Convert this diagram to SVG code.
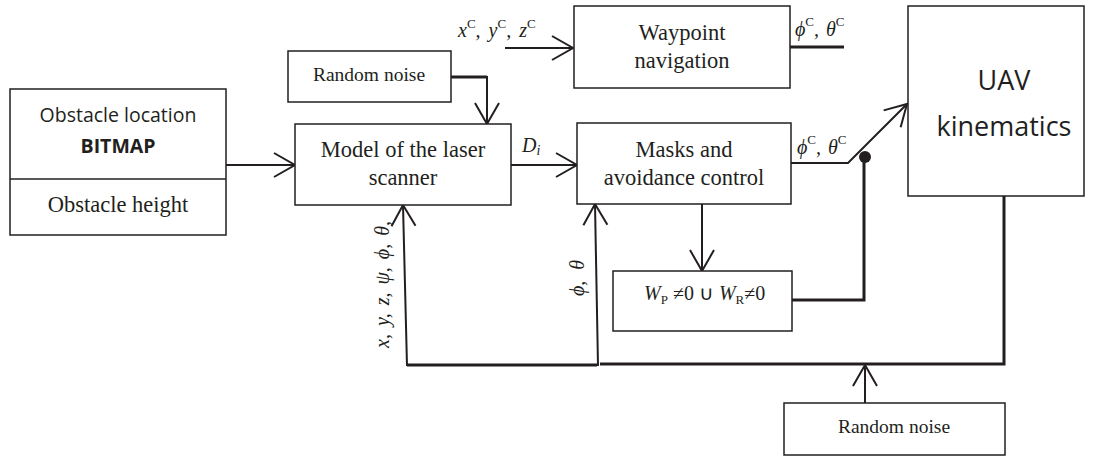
<svg xmlns="http://www.w3.org/2000/svg" width="1093" height="456" viewBox="0 0 1093 456">
  <style>
    .box { fill: #fff; stroke: #231f20; stroke-width: 1.5; }
    .ln { fill: none; stroke: #231f20; stroke-width: 2; }
    .thick { stroke-width: 3; }
    .serif { font-family: "Liberation Serif", "Times New Roman", serif; fill: #231f20; font-size: 22.5px; text-anchor: middle; }
    .small { font-size: 19.5px; }
    .sans { font-family: "Open Sans", Lato, "Liberation Sans", sans-serif; fill: #231f20; text-anchor: middle; }
    .math { font-family: "Liberation Serif", "Times New Roman", serif; fill: #231f20; font-size: 20px; font-style: italic; }
    .up { font-style: normal; font-size: 13px; }
  </style>
  <defs>
    <marker id="arrow" markerUnits="userSpaceOnUse" viewBox="-25 -15 30 30" markerWidth="30" markerHeight="30" refX="0" refY="0" orient="auto" overflow="visible">
      <path d="M-21,-12 L0,0 L-21,12" fill="none" stroke="#231f20" stroke-width="2"/>
    </marker>
  </defs>

  <!-- connectors -->
  <g id="connectors">
    <path class="ln" d="M226,165 H295" marker-end="url(#arrow)"/>
    <path class="ln thick" d="M451,77 H487"/>
    <path class="ln" d="M487,76 V124" marker-end="url(#arrow)"/>
    <path class="ln" d="M505,48 H573" marker-end="url(#arrow)"/>
    <path class="ln thick" d="M790,47 H844"/>
    <path class="ln" d="M511,165 H577" marker-end="url(#arrow)"/>
    <path class="ln" d="M791,163 H848 L907,104" marker-end="url(#arrow)"/>
    <circle cx="865" cy="157" r="6" fill="#231f20"/>
    <path class="ln thick" d="M792,300 H864 V158"/>
    <path class="ln" d="M702,204 V271" marker-end="url(#arrow)"/>
    <path class="ln thick" d="M1004,196 V364 H600"/>
    <path class="ln thick" d="M597,365 H407"/>
    <path class="ln" d="M407,366 L403,205" marker-end="url(#arrow)"/>
    <path class="ln" d="M598,366 L595,204" marker-end="url(#arrow)"/>
    <path class="ln" d="M865,403 V365" marker-end="url(#arrow)"/>

    <!-- signal labels -->
    <text class="math" x="458" y="37" word-spacing="3">x<tspan class="up" dy="-9">C</tspan><tspan dy="9">, y</tspan><tspan class="up" dy="-9">C</tspan><tspan dy="9">, z</tspan><tspan class="up" dy="-9">C</tspan></text>
    <text class="math" x="795" y="36" word-spacing="2">ϕ<tspan class="up" dy="-10">C</tspan><tspan dy="10">, θ</tspan><tspan class="up" dy="-10">C</tspan></text>
    <text class="math" x="797" y="154" word-spacing="2">ϕ<tspan class="up" dy="-10">C</tspan><tspan dy="10">, θ</tspan><tspan class="up" dy="-10">C</tspan></text>
    <text class="math" x="522" y="152">D<tspan font-size="14" dy="3">i</tspan></text>
    <text class="math" font-size="21" word-spacing="3" transform="translate(389,348) rotate(-90)">x, y, z, ψ, ϕ, θ,</text>
    <text class="math" font-size="21" transform="translate(584,296) rotate(-90)">ϕ, <tspan dx="6">θ</tspan></text>
  </g>

  <g id="obstacle">
    <rect class="box" x="10" y="89" width="216" height="146"/>
    <line class="box" x1="10" y1="179" x2="226" y2="179"/>
    <text class="sans" x="118" y="122" font-size="19.5">Obstacle location</text>
    <text class="sans" x="118" y="153" font-size="19.5" font-weight="bold">BITMAP</text>
    <text class="serif" x="118" y="212">Obstacle height</text>
  </g>

  <g id="noise-top">
    <rect class="box" x="288" y="51" width="163" height="51"/>
    <text class="serif small" x="369" y="81">Random noise</text>
  </g>

  <g id="laser-model">
    <rect class="box" x="295" y="124" width="216" height="81"/>
    <text class="serif" x="403" y="157">Model of the laser</text>
    <text class="serif" x="403" y="185">scanner</text>
  </g>

  <g id="waypoint">
    <rect class="box" x="574" y="6" width="216" height="82"/>
    <text class="serif" x="682" y="40">Waypoint</text>
    <text class="serif" x="682" y="68">navigation</text>
  </g>

  <g id="masks">
    <rect class="box" x="577" y="123" width="214" height="81"/>
    <text class="serif" x="684" y="157">Masks and</text>
    <text class="serif" x="684" y="185">avoidance control</text>
  </g>

  <g id="switch-condition">
    <rect class="box" x="613" y="271" width="179" height="60"/>
    <text class="math" x="644" y="300">W<tspan class="up" dy="4">P</tspan><tspan font-style="normal" dy="-4"> ≠0 ∪ </tspan>W<tspan class="up" dy="4">R</tspan><tspan font-style="normal" dy="-4">≠0</tspan></text>
  </g>

  <g id="uav">
    <rect class="box" x="908" y="6" width="176" height="190"/>
    <text class="sans" x="1004" y="90" font-size="27">UAV</text>
    <text class="sans" x="1004" y="136" font-size="27">kinematics</text>
  </g>

  <g id="noise-bottom">
    <rect class="box" x="784" y="403" width="221" height="52"/>
    <text class="serif small" x="894" y="433">Random noise</text>
  </g>
</svg>
